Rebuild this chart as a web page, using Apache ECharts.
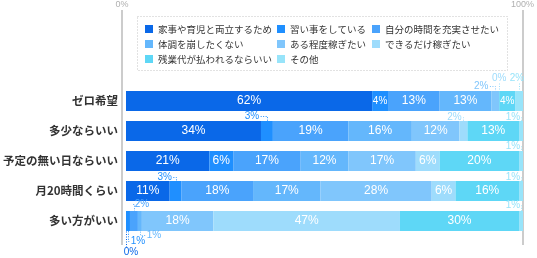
<!DOCTYPE html>
<html><head><meta charset="utf-8">
<script src="https://cdn.jsdelivr.net/npm/echarts@6/dist/echarts.min.js"></script>
<style>html,body{margin:0;padding:0;background:#fff}#c{width:537px;height:258px}</style>
</head><body><div id="c"></div>
<script>
// ---- data ----
const categories = ['ゼロ希望','多少ならいい','予定の無い日ならいい','月20時間くらい','多い方がいい'];
const seriesNames = ['家事や育児と両立するため','習い事をしている','自分の時間を充実させたい','体調を崩したくない','ある程度稼ぎたい','できるだけ稼ぎたい','残業代が払われるならいい','その他'];
const vKaji       = [62, 34, 21, 11, 0];
const vNaraigoto  = [4, 3, 6, 3, 1];
const vJibun      = [13, 19, 17, 18, 2];
const vTaicho     = [13, 16, 12, 17, 1];
const vAruteido   = [2, 12, 17, 28, 18];
const vDekirudake = [0, 2, 6, 6, 47];
const vZangyo     = [4, 13, 20, 16, 30];
const vSonota     = [2, 1, 1, 1, 1];
const axisTicks = ['0%','100%'];

const seriesValues = [vKaji, vNaraigoto, vJibun, vTaicho, vAruteido, vDekirudake, vZangyo, vSonota];
const colors = ['#0a68e8','#1f8fff','#4aa3fc','#64b7fc','#80c6fc','#9edcfc','#5ed7f6','#98e4fa'];
const BAR_W = 20;
const CALLOUT_FONT = '10px "Liberation Sans", Arial, sans-serif';

// ---- callout label placement (style) : key = categoryIndex-seriesIndex ----
const callouts = {
  '0-4': {side:'top', dx:-14, dy:-5},
  '0-5': {side:'top', dx:0, dy:-13, vertical:true},
  '0-7': {side:'top', dx:-2, dy:-13, vertical:true},
  '1-1': {side:'top', dx:-15, dy:-5},
  '1-5': {side:'top', dx:-9, dy:-4},
  '1-7': {side:'top', dx:-8, dy:-4},
  '2-7': {side:'top', dx:-8, dy:-5},
  '3-1': {side:'top', dx:-11, dy:-4},
  '3-7': {side:'top', dx:-8, dy:-4},
  '4-0': {side:'bottom', dx:5, dy:21, vertical:true},
  '4-1': {side:'bottom', dx:10, dy:10},
  '4-2': {side:'top', dx:8, dy:-7},
  '4-3': {side:'bottom', dx:14, dy:4},
  '4-7': {side:'top', dx:-8, dy:-6}
};

const measureCtx = document.createElement('canvas').getContext('2d');
measureCtx.font = CALLOUT_FONT;

function layoutFor(si) {
  return function (p) {
    const c = callouts[p.dataIndex + '-' + si];
    if (!c) return {};
    const r = p.rect;
    const cx = r.x + r.width / 2;
    const edge = c.side === 'top' ? r.y : r.y + r.height;
    return {x: cx + c.dx, y: edge + c.dy, align: 'center', verticalAlign: 'middle'};
  };
}

const series = seriesValues.map((vals, si) => ({
  name: seriesNames[si],
  type: 'bar',
  stack: 'total',
  xAxisIndex: 0, yAxisIndex: 0,
  barWidth: BAR_W,
  itemStyle: {color: colors[si]},
  label: {show: false, formatter: '{c}%', fontFamily: 'Liberation Sans, Arial, sans-serif'},
  labelLayout: layoutFor(si),
  data: vals.map((v, ci) => {
    const c = callouts[ci + '-' + si];
    if (c) {
      return {value: v, label: {show: true, position: c.side, color: colors[si], fontSize: 10}};
    }
    if (v >= 4) {
      return {value: v, label: {show: true, position: 'inside', color: '#fff', fontSize: v <= 4 ? 10 : 12}};
    }
    return {value: v};
  })
}));

// leader lines for callout labels, positioned through the value/category scales
const calloutData = Object.keys(callouts).map(k => {
  const [ci, si] = k.split('-').map(Number);
  return [0, ci, si];
});
series.push({
  type: 'custom',
  xAxisIndex: 0, yAxisIndex: 0,
  encode: {x: 0, y: 1},
  silent: true,
  z: 5,
  data: calloutData,
  renderItem: function (params, api) {
    const ci = api.value(1), si = api.value(2);
    const c = callouts[ci + '-' + si];
    let start = 0;
    for (let k = 0; k < si; k++) start += seriesValues[k][ci];
    const v = seriesValues[si][ci];
    const p0 = api.coord([start, ci]);
    const p1 = api.coord([start + v, ci]);
    const cx = Math.round((p0[0] + p1[0]) / 2) + 0.5;
    const edge = c.side === 'top' ? p0[1] - BAR_W / 2 : p0[1] + BAR_W / 2;
    const lx = (p0[0] + p1[0]) / 2 + c.dx;
    const ly = Math.round(edge + c.dy) + 0.5;
    const w = measureCtx.measureText(v + '%').width;
    let pts;
    if (c.vertical) {
      pts = [[cx, ly + (c.side === 'top' ? 5 : -5)], [cx, edge]];
    } else if (c.dx < 0) {
      pts = [[lx + w / 2 + 1.5, ly], [cx, ly], [cx, edge]];
    } else {
      pts = [[lx - w / 2 - 1.5, ly], [cx, ly], [cx, edge]];
    }
    return {
      type: 'polyline',
      shape: {points: pts},
      style: {fill: null, stroke: colors[si], lineWidth: 1, lineDash: [1, 1.5]}
    };
  }
});

const legendCommon = {
  orient: 'vertical', itemWidth: 8, itemHeight: 8, itemGap: 3, padding: 0, icon: 'rect',
  selectedMode: false, top: 23,
  textStyle: {fontSize: 9.5, color: '#333', lineHeight: 12, fontFamily: 'Noto Sans CJK JP'}
};

const chart = echarts.init(document.getElementById('c'), null, {renderer: 'canvas'});
chart.setOption({
  animation: false,
  backgroundColor: '#fff',
  graphic: [{
    type: 'rect', silent: true, z: 0,
    shape: {x: 137.5, y: 16.5, width: 370, height: 54},
    style: {fill: 'none', stroke: '#c4c4c4', lineWidth: 1, lineDash: [1, 2]}
  }],
  legend: [
    Object.assign({}, legendCommon, {left: 145, data: [seriesNames[0], seriesNames[3], seriesNames[6]]}),
    Object.assign({}, legendCommon, {left: 277, data: [seriesNames[1], seriesNames[4], seriesNames[7]]}),
    Object.assign({}, legendCommon, {left: 372, data: [seriesNames[2], seriesNames[5]]})
  ],
  grid: [
    {left: 123, right: 14, top: 86, height: 150},
    {left: 122, right: 13, top: 9, bottom: 13}
  ],
  xAxis: [
    {gridIndex: 0, type: 'value', min: 0, max: 100, show: false},
    {gridIndex: 1, type: 'value', min: 0, max: 100, interval: 100, position: 'top',
     axisLine: {show: false}, axisTick: {show: false},
     splitLine: {show: true, lineStyle: {color: '#cccccc', width: 2}},
     axisLabel: {margin: 1, fontSize: 9, color: '#b0b0b0', fontFamily: 'Liberation Sans, Arial, sans-serif',
       formatter: (v) => axisTicks[v === 0 ? 0 : 1]}}
  ],
  yAxis: [
    {gridIndex: 0, type: 'category', data: categories, inverse: true,
     axisLine: {show: false}, axisTick: {show: false}, splitLine: {show: false},
     axisLabel: {margin: 8, fontSize: 11.5, fontWeight: 'bold', color: '#333', fontFamily: 'Noto Sans CJK JP'}},
    {gridIndex: 1, type: 'value', show: false, min: 0, max: 1}
  ],
  series: series
});
</script>
</body></html>
